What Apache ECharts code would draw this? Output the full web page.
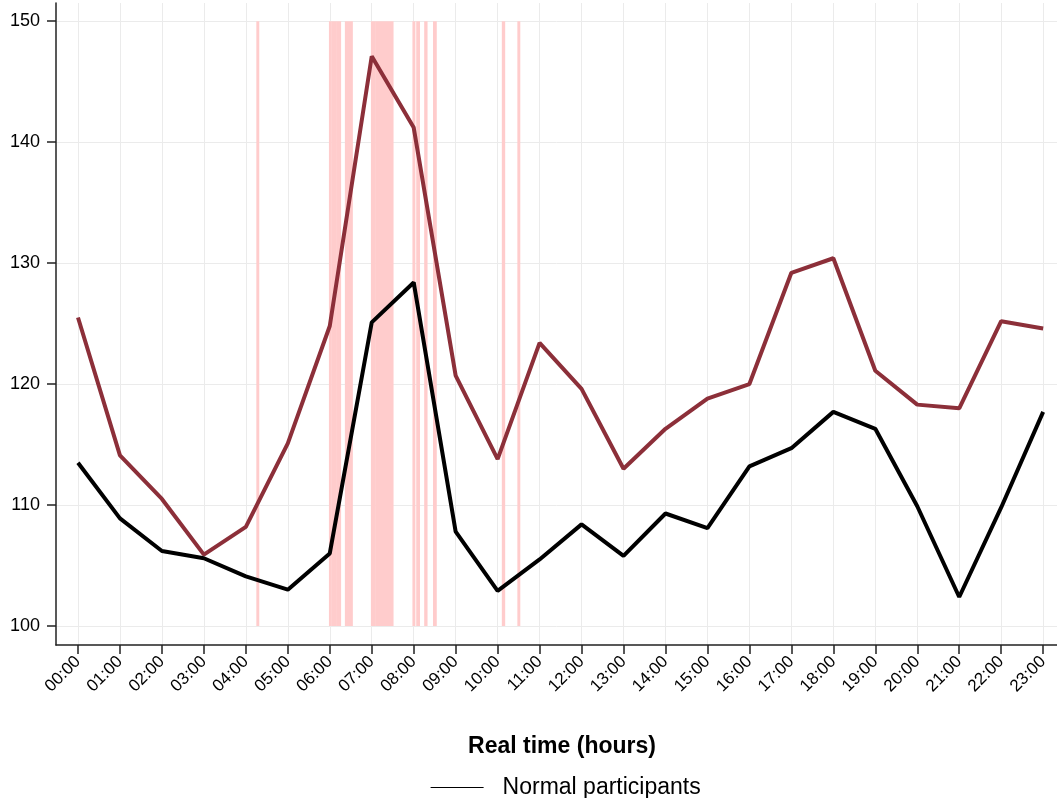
<!DOCTYPE html>
<html>
<head>
<meta charset="utf-8">
<script src="https://cdn.jsdelivr.net/npm/echarts@6/dist/echarts.min.js"></script>
<style>
  html, body { margin: 0; padding: 0; background: #fff; }
  #chart { width: 1057px; height: 798px; }
</style>
</head>
<body>
<div id="chart"></div>
<script>
// hours on the x axis and their labels
var hours = [0, 1, 2, 3, 4, 5, 6, 7, 8, 9, 10, 11, 12, 13, 14, 15, 16, 17, 18, 19, 20, 21, 22, 23]
var hourLabels = ['00:00', '01:00', '02:00', '03:00', '04:00', '05:00', '06:00', '07:00',
  '08:00', '09:00', '10:00', '11:00', '12:00', '13:00', '14:00', '15:00', '16:00', '17:00',
  '18:00', '19:00', '20:00', '21:00', '22:00', '23:00']
var yTicks = [100, 110, 120, 130, 140, 150]

// red line (no legend entry)
var redValues = [125.5, 114.1, 110.5, 105.9, 108.2, 115.1, 124.8, 147.1, 141.2, 120.7, 113.8, 123.4,
  119.6, 113.0, 116.3, 118.8, 120.0, 129.2, 130.4, 121.1, 118.3, 118.0, 125.2, 124.6]
// Normal participants
var normalValues = [113.5, 108.9, 106.2, 105.6, 104.1, 103.0, 106.0, 125.1, 128.4, 107.8, 102.9, 105.5,
  108.4, 105.8, 109.3, 108.1, 113.2, 114.7, 117.7, 116.3, 109.9, 102.4, 109.8, 117.7]

// pink shaded periods, in hours
var bandStart = [4.25, 5.98, 6.05, 6.15, 6.36, 6.98, 7.08, 7.97, 8.06, 8.25, 8.46, 10.10, 10.47]
var bandEnd   = [4.32, 6.05, 6.15, 6.27, 6.55, 7.08, 7.52, 8.04, 8.15, 8.33, 8.55, 10.18, 10.54]

var bands = bandStart.map(function (s, i) {
  return [{ xAxis: s, yAxis: 100 }, { xAxis: bandEnd[i], yAxis: 150 }]
})

function pairs(vals) {
  return hours.map(function (h, i) { return [h, vals[i]] })
}

var chart = echarts.init(document.getElementById('chart'))
var option = {
  animation: false,
  backgroundColor: '#fff',
  textStyle: { fontFamily: 'Liberation Sans, Arial, sans-serif' },
  grid: { left: 56, right: 0, top: 3, bottom: 153, containLabel: false, outerBoundsMode: 'none' },
  legend: {
    data: ['Normal participants'],
    left: 425,
    top: 771,
    itemWidth: 53,
    itemHeight: 14,
    textStyle: { fontSize: 23, color: '#000', padding: [0, 0, 0, 14] },
    itemStyle: { opacity: 0 },
    lineStyle: { width: 1.2, color: '#000' }
  },
  xAxis: {
    type: 'value',
    min: -0.524,
    max: 23.33,
    name: 'Real time (hours)',
    nameLocation: 'middle',
    nameGap: 90,
    nameTextStyle: { fontSize: 23, fontWeight: 'bold', color: '#000', padding: [0, 0, 0, 11] },
    axisLine: { onZero: false, lineStyle: { color: '#222', width: 1.5 } },
    axisTick: { length: 9, lineStyle: { color: '#222', width: 1.5 }, customValues: hours },
    axisLabel: {
      customValues: hours,
      rotate: 45,
      fontSize: 17,
      color: '#000',
      margin: 14,
      hideOverlap: false,
      formatter: function (v) { return hourLabels[Math.round(v)] }
    },
    splitLine: { show: true, lineStyle: { color: '#ebebeb', width: 1 } }
  },
  yAxis: {
    type: 'value',
    min: 98.43,
    max: 151.5,
    axisLine: { show: true, onZero: false, lineStyle: { color: '#222', width: 1.5 } },
    axisTick: { show: true, length: 9, lineStyle: { color: '#222', width: 1.5 }, customValues: yTicks },
    axisLabel: { customValues: yTicks, fontSize: 18, color: '#000', margin: 16 },
    splitLine: { show: true, lineStyle: { color: '#ebebeb', width: 1 } }
  },
  series: [
    {
      name: 'Shaded',
      type: 'line',
      data: pairs(redValues),
      symbol: 'none',
      lineStyle: { color: '#8c2f39', width: 4 },
      itemStyle: { color: '#8c2f39' },
      z: 3,
      markArea: {
        silent: true,
        itemStyle: { color: '#ffcccc' },
        data: bands
      }
    },
    {
      name: 'Normal participants',
      type: 'line',
      data: pairs(normalValues),
      symbol: 'none',
      lineStyle: { color: '#000', width: 4 },
      itemStyle: { color: '#000' },
      z: 4
    }
  ]
}
chart.setOption(option)
</script>
</body>
</html>
